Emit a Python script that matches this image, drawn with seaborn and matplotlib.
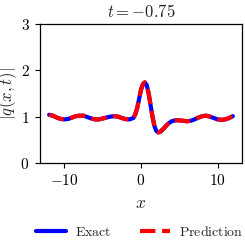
import numpy as np
import pandas as pd
import matplotlib
matplotlib.use("Agg")
import matplotlib.pyplot as plt
import seaborn as sns

# values
x_vals = [-12.0, -11.5, -11.0, -10.5, -10.0, -9.5, -9.0, -8.5, -8.0, -7.5,
          -7.0, -6.5, -6.0, -5.5, -5.0, -4.5, -4.0, -3.5, -3.0, -2.5,
          -2.0, -1.5, -1.0, -0.75, -0.5, -0.25, 0.0, 0.25, 0.5, 0.75,
          1.0, 1.25, 1.5, 1.75, 2.0, 2.25, 2.5, 3.0, 3.5, 4.0,
          4.5, 5.0, 5.5, 6.0, 6.5, 7.0, 7.5, 8.0, 8.5, 9.0,
          9.5, 10.0, 10.5, 11.0, 11.5, 12.0]
q_exact = [1.04, 1.02, 0.98, 0.95, 0.94, 0.95, 0.98, 1.01, 1.02, 1.02,
           0.99, 0.96, 0.94, 0.94, 0.96, 0.98, 1.00, 1.01, 1.00, 0.97,
           0.945, 0.94, 0.97, 1.05, 1.18, 1.38, 1.58, 1.70, 1.74, 1.68,
           1.50, 1.25, 1.00, 0.80, 0.69, 0.66, 0.67, 0.75, 0.84, 0.90,
           0.92, 0.92, 0.91, 0.90, 0.91, 0.94, 0.98, 1.01, 1.02, 1.00,
           0.97, 0.94, 0.93, 0.94, 0.97, 1.01]
q_pred = list(q_exact)

xticks = [-10, 0, 10]
xtick_labels = [r'$-10$', r'$0$', r'$10$']
yticks = [0, 1, 2, 3]
ytick_labels = [r'$0$', r'$1$', r'$2$', r'$3$']

sns.set_style("ticks")
plt.rcParams['font.family'] = ['DejaVu Serif']
plt.rcParams['mathtext.fontset'] = 'cm'

df = pd.DataFrame({'x': x_vals, 'exact': q_exact, 'pred': q_pred})

fig = plt.figure(figsize=(2.45, 2.45), dpi=100)
ax = fig.add_axes([0.163, 0.335, 0.825, 0.567])

sns.lineplot(data=df, x='x', y='exact', ax=ax, color='blue', linewidth=3,
             label=r'$\mathrm{Exact}$', legend=False)
sns.lineplot(data=df, x='x', y='pred', ax=ax, color='red', linewidth=3,
             linestyle='--', label=r'$\mathrm{Prediction}$', legend=False)

ax.set_xlim(-13.2, 13.2)
ax.set_ylim(0, 3)
ax.set_xticks(xticks, labels=xtick_labels, fontsize=11)
ax.set_yticks(yticks, labels=ytick_labels, fontsize=11)
ax.tick_params(direction='out', length=3.5, width=0.8, colors='black', pad=4)
for s in ax.spines.values():
    s.set_color('black')
    s.set_linewidth(0.9)

ax.set_xlabel(r'$x$', fontsize=12.5, labelpad=5)
ax.set_ylabel(r'$|q(x,t)|$', fontsize=12, labelpad=1)
ax.set_title(r'$t = -0.75$', fontsize=12, pad=5)

handles, labels = ax.get_legend_handles_labels()
fig.legend(handles, labels, loc='lower center', ncol=2, frameon=False,
           fontsize=10, handlelength=2.2, handletextpad=0.65,
           columnspacing=2.0, bbox_to_anchor=(0.57, -0.025))

fig.savefig('out.png', dpi=100)
